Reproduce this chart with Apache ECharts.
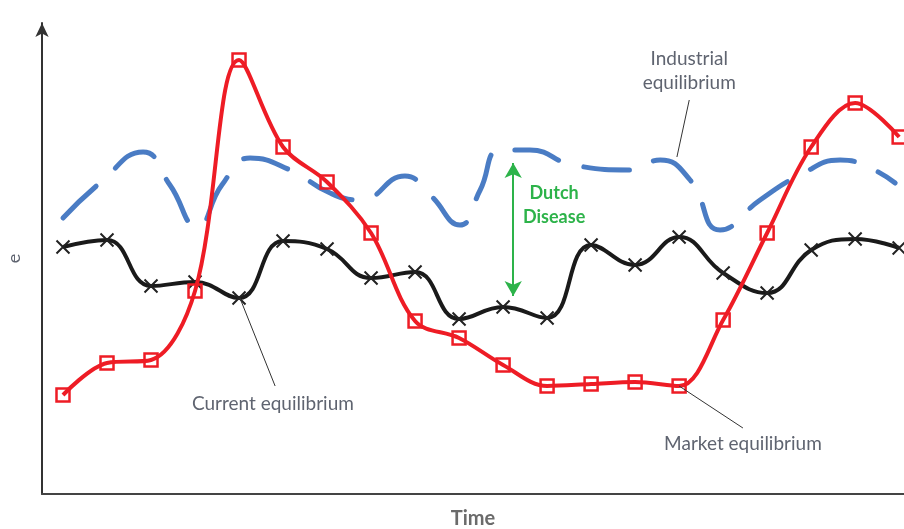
<!DOCTYPE html>
<html>
<head>
<meta charset="utf-8">
<script src="https://cdn.jsdelivr.net/npm/echarts@6/dist/echarts.min.js"></script>
<style>
  html, body { margin: 0; padding: 0; background: #fff; }
  #chart { width: 904px; height: 529px; }
</style>
</head>
<body>
<div id="chart"></div>
<script>
// time steps (one marker per step)
const timeIdx = [0, 1, 2, 3, 4, 5, 6, 7, 8, 9, 10, 11, 12, 13, 14, 15, 16, 17, 18, 19];
// market equilibrium (red squares)
const marketEq = [99, 131, 134, 203, 434, 347, 312, 261, 173, 156, 129, 108, 110, 112, 108, 174, 261, 347, 391, 357];
// current equilibrium (black crosses)
const currentEq = [247, 254, 208, 212, 196, 253, 245, 216, 222, 175, 187, 176, 249, 229, 257, 221, 201, 244, 255, 246];
// industrial equilibrium (blue dashed), own sample points
const industrialT = [0, 0.84, 1.82, 2.43, 3.05, 3.61, 4.25, 5.16, 6.07, 6.75, 7.77, 8.34, 9.02, 9.48, 9.93, 10.61, 11.59, 12.89, 13.57, 14.25, 14.93, 15.84, 16.75, 17.66, 18.34, 18.91];
const industrialE = [276, 311, 342, 309, 267, 309, 336, 324, 301, 294, 318, 299, 269, 304, 344, 344, 329, 324, 334, 314, 264, 294, 319, 334, 326, 311];

// annotations: [label, textAt, lineFrom, lineTo]
const notes = [
  ["Industrial\nequilibrium", [14.23, 423], [14.23, 394], [13.95, 337]],
  ["Current equilibrium", [4.77, 90], [4.02, 196], [4.82, 108]],
  ["Market equilibrium", [15.45, 50], [14.0, 108], [15.45, 66]]
];
const gapT = 10.23, gapTop = 331, gapBottom = 198;

const textColor = "#5f6470";
const font = "Lato";

const chart = echarts.init(document.getElementById("chart"));

const pair = (xs, ys) => xs.map((x, i) => [x, ys[i]]);

const option = {
  animation: false,
  grid: { left: 42, right: 0, top: 23, bottom: 35, containLabel: false, outerBoundsMode: "none" },
  xAxis: {
    type: "value",
    min: -0.477,
    max: 19.11,
    name: "Time",
    nameLocation: "middle",
    nameGap: 15,
    nameTextStyle: { color: "#6b6b6b", fontSize: 20, fontWeight: "bold", fontFamily: font },
    axisLine: { onZero: false, lineStyle: { color: "#444", width: 2 } },
    axisTick: { show: false },
    axisLabel: { show: false },
    splitLine: { show: false }
  },
  yAxis: {
    type: "value",
    min: 0,
    max: 471,
    name: "e",
    nameLocation: "middle",
    nameRotate: 90,
    nameGap: 19,
    nameTextStyle: { color: textColor, fontSize: 18, fontFamily: font },
    axisLine: {
      show: true,
      onZero: false,
      symbol: ["none", "arrow"],
      symbolSize: [10, 14],
      lineStyle: { color: "#333", width: 2 }
    },
    axisTick: { show: false },
    axisLabel: { show: false },
    splitLine: { show: false }
  },
  series: [
    {
      name: "Industrial equilibrium",
      type: "line",
      smooth: 0.5,
      symbol: "none",
      data: pair(industrialT, industrialE),
      lineStyle: { color: "#4a7cc4", width: 5, type: [46, 26], cap: "round" },
      z: 2
    },
    {
      name: "Current equilibrium",
      type: "line",
      smooth: 0.45,
      data: pair(timeIdx, currentEq),
      symbol: "path://M0,0L10,10M10,0L0,10",
      symbolSize: 13,
      itemStyle: { color: "rgba(0,0,0,0)", borderColor: "#222", borderWidth: 2 },
      lineStyle: { color: "#1a1a1a", width: 4 },
      z: 3,
      markLine: {
        silent: true,
        symbol: "none",
        label: { show: false },
        lineStyle: { color: "#333", width: 1, type: "solid" },
        data: notes.map(n => [{ coord: n[2] }, { coord: n[3] }])
      }
    },
    {
      name: "Market equilibrium",
      type: "line",
      smooth: 0.35,
      data: pair(timeIdx, marketEq),
      symbol: "rect",
      symbolSize: 13,
      itemStyle: { color: "rgba(0,0,0,0)", borderColor: "#ee1c25", borderWidth: 2.5 },
      lineStyle: { color: "#ee1c25", width: 4 },
      z: 4,
      markLine: {
        silent: true,
        symbol: ["arrow", "arrow"],
        symbolSize: [13, 15],
        label: { show: false },
        lineStyle: { color: "#2db34a", width: 2, type: "solid" },
        data: [[{ coord: [gapT, gapTop] }, { coord: [gapT, gapBottom] }]]
      }
    }
  ]
};

chart.setOption(option);

const texts = notes.map(n => {
  const p = chart.convertToPixel({ gridIndex: 0 }, n[1]);
  return {
    type: "text",
    x: p[0], y: p[1],
    style: {
      text: n[0], fill: textColor, font: "19px " + font,
      align: "center", verticalAlign: "middle", lineHeight: 24
    }
  };
});
const dp = chart.convertToPixel({ gridIndex: 0 }, [11.16, 289]);
texts.push({
  type: "text",
  x: dp[0], y: dp[1],
  style: {
    text: "Dutch\nDisease", fill: "#2db34a", font: "bold 18px " + font,
    align: "center", verticalAlign: "middle", lineHeight: 24
  }
});
chart.setOption({ graphic: texts });
</script>
</body>
</html>
